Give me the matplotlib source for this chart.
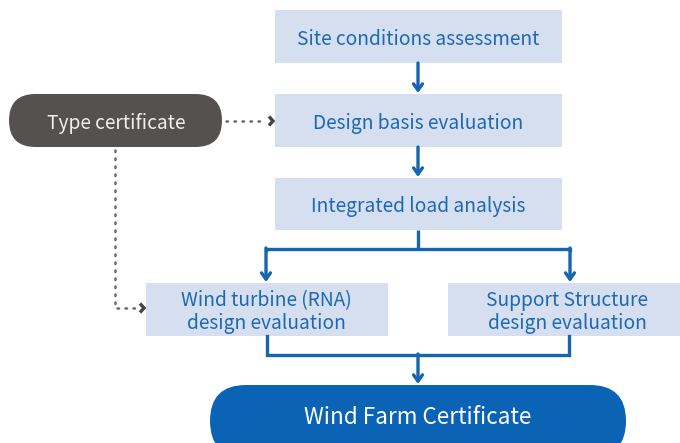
import matplotlib
matplotlib.use("Agg")
import matplotlib.pyplot as plt
from matplotlib.patches import FancyBboxPatch, Rectangle

plt.rcParams['font.family'] = ['Noto Sans CJK JP', 'DejaVu Sans']

# Text content
step_labels = ["Site conditions assessment", "Design basis evaluation", "Integrated load analysis"]
branch_labels = ["Wind turbine (RNA)\ndesign evaluation", "Support Structure\ndesign evaluation"]
type_label = "Type certificate"
final_label = "Wind Farm Certificate"

BOX_FILL = "#d5dff0"
TEXT_BLUE = "#1d68b3"
LINE_BLUE = "#1565b0"
CERT_BLUE = "#0b63b6"
DARK = "#555150"
DOT = "#6a6a6a"
FS = 13.8
DY = 2.5

W, H = 680, 443
fig = plt.figure(figsize=(W / 100, H / 100), dpi=100)
ax = fig.add_axes([0, 0, 1, 1])
ax.set_xlim(0, W)
ax.set_ylim(H, 0)
ax.axis("off")

def box(x0, y0, x1, y1, label, fs=FS, cx=None):
    ax.add_patch(Rectangle((x0, y0), x1 - x0, y1 - y0, facecolor=BOX_FILL, edgecolor="none", zorder=1))
    if cx is None:
        cx = (x0 + x1) / 2
    ax.text(cx, (y0 + y1) / 2 + DY, label, ha="center", va="center", color=TEXT_BLUE,
            fontsize=fs, linespacing=1.1, zorder=3)

def arrow(x, y0, y1):
    ax.annotate("", xy=(x, y1), xytext=(x, y0),
                arrowprops=dict(arrowstyle="->,head_length=0.45,head_width=0.32", color=LINE_BLUE,
                                lw=2.4, shrinkA=0, shrinkB=0), zorder=2)

# main column
step_y = [(10, 63), (94, 147), (178, 230)]
for (y0, y1), lab in zip(step_y, step_labels):
    box(275, y0, 562, y1, lab)
arrow(418, 63, 93)
arrow(418, 147, 177)

# branch
ax.plot([418, 418], [230, 249], color=LINE_BLUE, lw=2.4, solid_capstyle="butt", zorder=2)
ax.plot([266, 266, 570, 570], [250, 249, 249, 250], color=LINE_BLUE, lw=2.4,
        solid_joinstyle="miter", zorder=2)
arrow(266, 248, 282)
arrow(570, 248, 282)

box(146, 283, 388, 336, branch_labels[0], cx=266)
box(448, 283, 690, 336, branch_labels[1], cx=567)

# merge
ax.plot([267, 267, 569, 569], [336, 355, 355, 336], color=LINE_BLUE, lw=2.4,
        solid_joinstyle="miter", zorder=2)
arrow(418, 354, 384)

# final certificate pill
ax.add_patch(FancyBboxPatch((210, 385), 626 - 210, 72,
                            boxstyle="round,pad=0,rounding_size=36",
                            facecolor=CERT_BLUE, edgecolor="none", zorder=1))
ax.text(418, 415 + DY, final_label, ha="center", va="center", color="white", fontsize=16.2, zorder=3)

# type certificate pill
ax.add_patch(FancyBboxPatch((9, 94), 222 - 9, 53,
                            boxstyle="round,pad=0,rounding_size=26.5",
                            facecolor=DARK, edgecolor="none", zorder=1))
ax.text(116, 121 + DY, type_label, ha="center", va="center", color="#f0f0f0", fontsize=FS, zorder=3)

# dotted connectors
dot_style = dict(color=DOT, lw=1.8, linestyle=(0, (0.6, 2.6)), dash_capstyle="round", zorder=2)
ax.plot([226, 265], [121, 121], **dot_style)
ax.plot([115, 115, 136], [150, 308, 308], **dot_style)

def chevron(x, y):
    ax.plot([x - 4, x, x - 4], [y - 4.5, y, y + 4.5], color="#444444", lw=2.4,
            solid_joinstyle="miter", solid_capstyle="butt", zorder=2)

chevron(273, 121)
chevron(144, 308)

fig.savefig("out.png", dpi=100, facecolor="white")
